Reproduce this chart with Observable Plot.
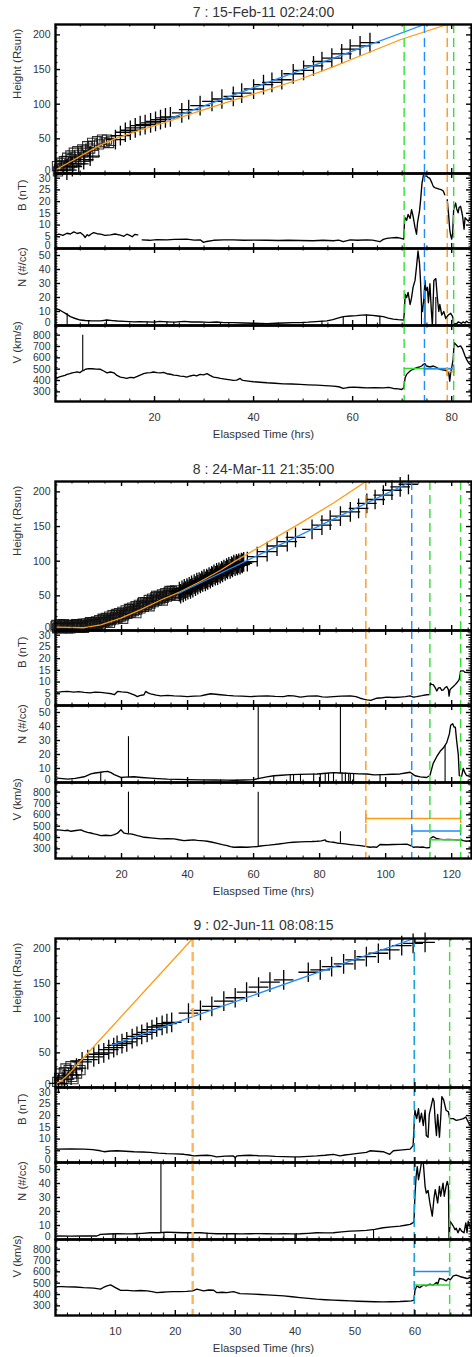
<!DOCTYPE html>
<html><head><meta charset="utf-8">
<script src="https://cdn.jsdelivr.net/npm/d3@7"></script>
<script src="https://cdn.jsdelivr.net/npm/@observablehq/plot@0.6"></script>
<style>
html,body{margin:0;padding:0;background:#fff;overflow:hidden;}
#root{position:relative;width:472px;height:1357px;font-family:"Liberation Sans",Arial,Helvetica,sans-serif;color:#333;}
.ttl{position:absolute;left:55px;width:417px;height:16px;line-height:16px;text-align:center;font-size:14px;color:#333;}
</style></head><body><div id="root"></div>
<script>
// ---------- text ----------
const titles = ["7 : 15-Feb-11 02:24:00", "8 : 24-Mar-11 21:35:00", "9 : 02-Jun-11 08:08:15"];
const yTitles = ["Height (Rsun)", "B (nT)", "N (#/cc)", "V (km/s)"];
const xTitle = "Elaspsed Time (hrs)";
const hLabels = [0, 50, 100, 150, 200];
const bLabels = [0, 5, 10, 15, 20, 25, 30];
const nLabels = [0, 10, 20, 30, 40, 50];
const vLabels = [300, 400, 500, 600, 700, 800];
const e7_xTicks = [20, 40, 60, 80];
const e8_xTicks = [20, 40, 60, 80, 100, 120];
const e9_xTicks = [10, 20, 30, 40, 50, 60];

// ---------- event 7 ----------
const e7_heightSquare = [[0.3,10.6],[0.7,5.8],[1.0,15.5],[1.4,8],[1.7,17.8],[2.0,10.6],[2.35,22.7],[2.8,13],[3.0,26],[3.4,15.5],[3.7,29.9],[4.2,18],[4.4,32.2],[5.0,20.3],[5.4,34.6],[5.9,24],[6.4,39.4],[6.6,25.1],[7.4,44.2],[7.8,30],[8.4,46.6],[9.4,49],[10.4,49],[11.2,47],
[0.5,3],[1.2,12],[2.1,18],[2.6,8],[3.2,21],[4.0,24],[4.8,27],[5.6,30],[6.1,33],[7.0,36],[7.6,40],[8.8,42],[9.9,45],[10.8,44]];
const e7_heightPlus = [[2.3,5],[3.4,10],[4.7,14],[5.7,20],[7.0,25],[12.1,49],[13.1,54.7],[14.1,59.5],[15.1,62.4],[16.1,65.8],[17.1,69.1],[18.1,70.6],[19.2,73],[20.2,75.3],[21.2,77.8],[22.2,80.2],[23.2,81.6],[25.5,87.4],[26.9,92.1],[29.2,97.9],[31.6,104.1],[33.6,107.5],[35.9,111.3],[37.6,116.1],[40.0,121.9],[42.0,128.1],[43.7,131.4],[45.7,135.3],[48.0,143.9],[50.1,148.7],[52.1,155.4],[53.8,161.6],[55.8,166.5],[57.8,172.7],[59.5,179.4],[61.5,184.2],[63.5,188.9]];
const e7_fitOrange = [[0,5],[2,13],[4,21],[6,29],[9,41],[12,50],[16,60],[22.6,75],[30,92],[36,106],[42,119],[49.4,136],[56,154],[62,171],[69.6,193],[79.1,215]];
const e7_fitBlue = [[22.6,78],[74.5,215]];
const e7_B = [[0.0,5.6],[0.7,6.1],[1.5,5.6],[2.3,6.5],[3.0,6.2],[3.7,7.1],[4.4,6.4],[5.0,6.8],[5.6,5.8],[6.0,4.7],[6.4,5.9],[6.7,5.4],[7.2,6.2],[7.7,6.8],[8.4,6.3],[9.1,6.1],[10.0,5.6],[11.1,5.8],[12.0,6.2],[13.1,5.7],[13.8,5.2],[14.4,6.1],[15.0,5.6],[15.5,5.0],[16.0,6.0],[16.6,5.8],[16.7,null],
[17.5,3.7],[19.0,3.5],[20.5,3.8],[22.5,3.7],[24.0,3.9],[26.5,4.0],[28.0,3.6],[29.2,3.7],[29.9,2.6],[30.5,3.0],[31.9,3.5],[34.0,3.7],[35.9,3.7],[38.0,3.5],[40.0,3.6],[42.7,3.5],[45.0,3.4],[47.0,3.5],[49.4,3.4],[52.0,3.3],[54.0,3.5],[56.1,3.3],[57.2,3.6],[58.1,2.9],[59.5,3.7],[61.0,3.5],[62.8,3.7],[64.0,3.6],[65.5,2.9],[66.2,3.9],[66.9,4.3],[67.8,4.5],[68.9,4.7],[69.6,4.4],[70.3,4.0],
[70.5,12.5],[70.6,13.1],[70.9,12.0],[71.2,14.5],[71.6,12.8],[71.9,16.6],[72.2,13.8],[72.6,8.9],[72.9,6.1],[73.1,11.0],[73.5,15.9],[73.7,20.1],[74.0,27.8],[74.3,31.3],[74.6,31.0],[74.9,30.9],[75.3,30.2],[75.6,29.9],[76.0,28.0],[76.3,26.4],[76.6,26.0],[77.0,25.7],[77.5,25.3],[78.0,25.0],[78.3,24.5],[78.6,22.9],[78.7,null],
[79.1,20.8],[79.3,16.0],[79.4,13.8],[79.6,8.2],[79.8,5.5],[80.0,4.0],[80.2,6.8],[80.4,16.6],[80.6,18.0],[80.8,19.4],[81.0,17.0],[81.3,15.2],[81.5,17.5],[81.8,18.0],[82.0,16.0],[82.2,13.8],[82.5,8.2],[82.7,13.1],[83.0,12.4],[83.2,12.0],[83.4,11.7],[83.7,13.1],[84.0,12.5]];
const e7_N = [[0.0,12.0],[0.7,11.3],[1.35,10.0],[2.0,8.7],[3.0,6.3],[4.0,5.0],[5.0,3.9],[6.0,3.6],[7.0,3.4],[8.0,3.3],[9.1,3.3],[10.4,3.9],[11.5,3.5],[12.5,3.2],[14.0,2.9],[15.8,2.6],[17.0,2.8],[18.5,2.6],[20.0,2.4],[21.0,2.9],[22.5,2.6],[24.0,2.4],[26.0,2.9],[27.5,2.5],[29.2,2.6],[31.0,2.2],[32.5,2.5],[34.0,2.0],[35.9,2.1],[38.0,1.8],[40.0,1.6],[42.7,1.3],[44.5,1.6],[46.0,1.8],[48.0,2.0],[49.4,2.1],[51.0,2.4],[52.5,2.8],[54.8,3.3],[56.0,4.2],[57.0,5.2],[58.1,6.3],[59.5,6.8],[60.8,7.0],[61.8,7.4],[62.8,7.5],[64.0,7.2],[65.0,6.8],[66.2,6.3],[67.2,5.3],[68.2,4.6],[69.2,4.2],[70.3,3.9],
[70.45,10.0],[70.6,22.4],[70.9,19.9],[71.2,23.6],[71.6,15.0],[71.9,19.9],[72.2,27.3],[72.6,32.2],[72.9,42.1],[73.2,53.2],[73.5,44.6],[73.7,32.2],[73.9,15.0],[74.1,10.0],[74.4,19.9],[74.6,32.2],[74.8,24.8],[75.1,27.3],[75.3,16.2],[75.6,29.8],[75.9,10.0],[76.1,0],[76.4,32.2],[76.8,33.5],[77.1,19.9],[77.4,10.0],[77.6,15.0],[78.0,7.5],[78.4,10.0],[78.8,5.0],[79.3,7.5],[79.8,8.7],[80.2,6.3],[80.4,1.3],[81.0,1.3],[81.3,2.5],[81.7,2.1],[82.0,1.5],[82.3,2.6],[82.7,1.8],[83.0,3.1],[83.4,2.0],[83.7,2.1],[84.0,2.5]];
const e7_Nspikes = [[2.35,0,8.5],[6.7,0,3.5],[10.3,0,3.8],[18.5,0,2.6],[22.5,0,2.6],[23.9,0,2.4],[33.3,0,2.2],[42.0,0,1.5],[53.8,0,3.0],[58.1,0,6.3],[62.8,0,7.5],[65.5,0,6.6],[73.9,0,15],[74.6,0,30],[76.8,0,20]];
const e7_V = [[0.0,430],[0.34,424],[0.8,432],[1.35,439],[1.9,445],[2.35,454],[2.9,460],[3.36,468],[3.9,472],[4.37,477],[4.9,470],[5.38,484],[5.7,490],[6.05,499],[6.7,505],[7.39,504],[8.2,500],[9.07,499],[9.74,484],[10.4,468],[11.1,475],[11.8,468],[12.4,445],[13.1,430],[13.7,425],[14.4,419],[15.1,428],[15.8,424],[16.5,436],[17.1,448],[17.8,460],[18.5,468],[19.2,470],[19.8,475],[20.5,470],[21.2,468],[21.8,472],[22.5,460],[23.2,455],[23.9,448],[24.5,445],[25.2,439],[25.9,436],[26.5,430],[27.2,440],[27.9,448],[28.5,440],[29.2,454],[29.9,450],[30.6,460],[31.2,445],[31.9,430],[32.6,425],[33.3,419],[33.9,415],[34.6,410],[35.3,405],[35.9,401],[36.6,404],[37.3,419],[37.6,405],[37.9,401],[38.9,395],[40.0,389],[41.3,385],[42.7,380],[44.3,376],[46.0,371],[47.7,369],[49.4,366],[51.0,362],[52.8,359],[54.4,355],[56.1,350],[57.2,345],[58.1,330],[59.0,338],[60.2,342],[61.5,338],[62.8,335],[64.5,337],[66.2,335],[67.3,340],[68.2,330],[69.2,326],[69.9,321],[70.3,335],
[70.6,424],[70.9,454],[71.6,484],[72.2,499],[72.9,513],[73.5,519],[74.0,530],[74.3,543],[74.6,548],[74.9,528],[75.6,519],[76.3,528],[77.0,513],[77.6,499],[78.4,493],[79.1,484],[79.4,468],[79.6,395],[79.8,468],[80.0,513],[80.3,587],[80.5,734],[80.8,720],[81.3,696],[81.8,705],[82.2,676],[82.7,617],[83.0,587],[83.4,557],[83.7,543],[84.0,540]];
const e7_Vspikes = [[5.5,488,800]];
const e7_markerTimes = [70.4, 74.5, 79.1, 80.4];
const e7_markerKinds = ["green", "blue", "orange", "green"];
const e7_levels = [{from:70.4,to:80.4,v:507,kind:"green"},{from:74.5,to:80.4,v:503,kind:"blue"},{from:79.1,to:80.4,v:478,kind:"orange"}];

// ---------- event 8 ----------
const e8_heightSquare = [[0,6],[1,5],[2,6],[3,5],[4,6],[5,5],[6,6],[7,6],[8,7],[9,7],[10,8],[11,9],[12,10],[13,11],[14,12],[15,14],[16,15],[17,17],[18,19],[19,20],[20,22],[21,24],[22,26],[23,28],[24,30],[25,33],[26,35],[27,37],[28,40],[29,42],[30,44],[31,46],[32,48],[33,50],[34,51],[35,52],[36,54],[37,55],
[0.5,3],[2.5,9],[4.5,3],[6.5,9],[8.5,4],[10.5,12],[12.5,6],[14.5,16],[16.5,11],[18.5,24],[20.5,17],[22.5,31],[24.5,25],[26.5,41],[28.5,35],[30.5,50],[32.5,43],[34.5,57],[36.5,50],
[0.25,8],[0.75,4],[1.25,9],[1.75,3],[2.25,7],[2.75,4],[3.25,8],[3.75,3],[4.25,7],[4.75,5],[5.25,8],[5.75,4],[6.25,9],[6.75,5],[7.25,8],[7.75,4],[8.25,10],[8.75,5],[9.25,10],[9.75,6],[10.25,11],[10.75,7],[11.25,12],[11.75,8],[12.25,13],[12.75,9],[13.25,15],[13.75,10],[14.25,17],[14.75,12],[15.25,18],[15.75,13],[16.25,20],[16.75,15],[17.25,22],[17.75,16],[18.25,23],[18.75,18],[19.25,25],[19.75,20],[20.25,27],[20.75,22],[21.25,29],[21.75,24],[22.25,31],[22.75,26],[23.25,33],[23.75,28],[24.25,35],[24.75,30],[25.25,37],[25.75,32],[26.25,39],[26.75,34],[27.25,41],[27.75,37],[28.25,44],[28.75,39],[29.25,46],[29.75,41],[30.25,48],[30.75,43],[31.25,50],[31.75,45],[32.25,52],[32.75,47],[33.25,54],[33.75,49],[34.25,55],[34.75,51],[35.25,57],[35.75,52],[36.25,58],[36.75,54]];
const e8_heightPlus = [[37.5,56],[38.3,58],[39,60],[39.8,61],[40.5,63],[41.2,65],[42,67],[42.8,69],[43.5,70],[44.3,72],[45,74],[45.8,75],[46.5,77],[47.3,79],[48,81],[48.8,83],[49.5,84],[50.3,86],[51,88],[51.8,90],[52.5,92],[53.3,93],[54,95],[54.8,96],[55.5,97],[56.3,98],[57,99],
[37.9,53],[38.7,55],[39.4,57],[40.1,59],[40.9,60],[41.6,62],[42.4,64],[43.1,66],[43.9,68],[44.6,70],[45.4,71],[46.1,73],[46.9,75],[47.6,77],[48.4,79],[49.1,80],[49.9,82],[50.6,84],[51.4,86],[52.1,88],[52.9,89],[53.6,91],[54.4,93],[55.1,94],[55.9,95],[56.6,97],
[58.1,99.3],[61.1,106.5],[64.1,113.7],[67.1,121.9],[70.2,128.1],[72.7,134.4],[77.7,145.9],[80.7,152.1],[83.2,159.3],[86.3,165],[89.3,171.2],[91.8,176.1],[94.3,183.3],[96.8,189],[99.3,195.2],[101.9,202.4],[104.4,207.2],[106.9,211]];
const e8_fitOrange = [[0,5],[4,4.5],[8.7,4],[13.7,8],[19.8,18],[25.8,30],[31.9,44],[37.9,56],[44,71],[50,87],[54,99],[64.1,127],[74.2,155],[84.2,184],[94,215]];
const e8_fitBlue = [[37,53],[107.9,215]];
const e8_B = [[0.6,5.6],[2.0,5.9],[3.7,6.0],[5.5,5.7],[7.0,5.9],[8.7,5.6],[10.5,5.4],[12.0,5.7],[13.7,5.6],[15.5,5.3],[17.0,5.0],[17.8,4.6],[18.8,6.0],[20.0,5.8],[21.8,5.6],[23.0,5.0],[24.0,4.4],[24.8,3.8],[25.5,4.2],[26.8,4.6],[27.3,6.0],[28.0,5.4],[28.8,5.0],[30.5,4.4],[31.9,4.1],[34.0,4.3],[35.9,4.1],[38.0,4.0],[39.9,3.8],[42.0,4.0],[44.0,4.1],[45.5,4.6],[47.0,5.0],[48.5,4.8],[50.0,4.6],[52.0,4.3],[54.0,4.1],[56.5,4.0],[59.1,3.8],[61.5,4.0],[64.1,4.1],[66.5,3.9],[69.1,3.8],[70.5,4.2],[72.1,4.1],[74.2,3.6],[76.5,4.0],[79.2,4.1],[80.8,3.7],[82.2,3.6],[84.2,3.8],[86.5,4.0],[89.3,4.1],[91.0,3.8],[92.3,3.1],[93.3,2.7],[94.3,2.4],[95.5,2.2],[97.3,3.1],[99.0,3.3],[100.4,3.6],[102.5,3.4],[104.4,3.6],[106.0,3.8],[107.4,4.1],[108.4,3.6],[109.4,3.8],[111.0,4.2],[112.4,4.6],[113.3,4.7],[113.5,9.6],[113.9,9.0],[114.4,8.9],[115.0,7.6],[115.5,6.2],[116.0,7.5],[116.5,7.6],[117.0,6.5],[117.5,6.7],[118.0,7.6],[118.5,8.1],[119.0,6.8],[119.2,4.0],[119.5,6.7],[120.0,7.5],[120.5,8.1],[121.0,8.8],[121.5,9.6],[122.0,10.5],[122.3,11.2],[122.7,14.8],[123.5,14.8],[124.0,14.2],[124.5,14.1],[125.5,14.1],[126,13.9]];
const e8_N = [[0.6,3.1],[2.0,2.8],[3.7,2.4],[6.0,3.0],[8.7,4.1],[10.7,6.1],[12.0,6.8],[13.7,7.3],[14.8,7.8],[15.8,8.0],[16.8,7.0],[17.8,5.6],[19.8,3.6],[21.0,3.8],[23.8,4.1],[26.0,3.6],[28.8,3.1],[31.0,2.8],[33.9,2.4],[37.0,2.2],[40.0,2.0],[44.0,1.9],[48.0,1.8],[52.0,1.7],[54.0,1.6],[57.0,1.8],[60.0,2.1],[62.1,3.1],[64.0,4.0],[66.1,4.8],[68.5,5.2],[71.1,5.6],[74.0,5.8],[77.0,6.0],[79.2,6.1],[82.0,6.6],[84.2,7.0],[86.0,6.8],[89.3,6.5],[92.0,6.2],[94.3,6.1],[96.5,5.4],[99.3,5.6],[102.0,5.9],[104.4,6.1],[106.0,6.8],[107.4,7.3],[108.2,6.0],[108.9,4.8],[110.5,4.0],[112.4,3.6],[113.4,5.0],[114.4,13.7],[115.5,18.6],[116.5,22.3],[117.5,24.8],[118.5,28.5],[119.3,34.7],[119.7,40.9],[120.3,42.0],[120.7,39.6],[121.1,39.6],[121.5,29.8],[122.0,19.9],[122.3,5.0],[123.0,4.5],[123.5,10.0],[124.0,7.0],[124.5,5.0],[125.5,4.5],[126,5.0]];
const e8_Nspikes = [[13.7,0,7.3],[22.1,3.6,32.7],[61.4,2.2,56],[66.1,0,4.8],[71.1,0,5.6],[72.1,0,5.6],[74.2,0,5.8],[78.2,0,6.0],[80.2,0,6.2],[81.7,0,6.5],[82.7,0,6.6],[84.2,0,7.0],[86.3,6.5,56],[86.8,0,6.8],[87.8,0,6.7],[88.8,0,6.5],[89.3,0,6.5],[90.3,0,6.4],[98.3,0,5.6],[118.0,0,26]];
const e8_V = [[0.6,468],[1.6,465],[2.7,461],[3.7,464],[4.7,455],[6.2,462],[7.7,468],[8.7,455],[9.7,446],[10.7,440],[11.7,432],[12.7,425],[13.7,417],[15.2,420],[16.8,417],[17.8,425],[18.8,438],[19.8,468],[20.8,438],[22.0,432],[22.8,432],[23.8,425],[24.8,417],[25.8,410],[26.8,402],[27.8,400],[28.8,397],[30.4,392],[31.9,388],[33.9,390],[35.9,388],[37.4,380],[38.9,373],[40.4,376],[41.9,379],[43.0,375],[44,373],[45.0,370],[46,367],[47.5,358],[49,349],[50.5,338],[52,329],[53.0,320],[54,314],[56.0,316],[58.1,314],[59.6,318],[61.1,320],[62.1,325],[63.1,329],[64.6,333],[66.1,338],[67.6,343],[69.1,349],[70.6,355],[72.1,358],[74.2,361],[76.2,364],[77.7,365],[79.2,367],[80.5,370],[81.7,379],[82.0,367],[83.1,362],[84.2,358],[85.2,352],[86.2,349],[87.7,344],[89.3,338],[90.8,333],[92.3,329],[93.8,322],[95.3,314],[96.3,318],[97.3,314],[98.3,338],[100.4,336],[102.4,338],[104.4,340],[106.4,341],[107.4,330],[108.4,314],[109.4,318],[110.4,314],[111.4,316],[112.4,309],[113.3,312],[113.5,391],[114.4,408],[115.4,391],[116.4,386],[117.5,382],[119.0,384],[120.5,382],[121.6,380],[122.7,382],[123.5,372],[124.5,367],[125.5,373],[126,370]];
const e8_Vspikes = [[22.1,432,800],[61.4,320,800],[86.3,349,450]];
const e8_markerTimes = [94.0, 107.9, 113.4, 122.7];
const e8_markerKinds = ["orange", "blue", "green", "green"];
const e8_levels = [{from:94.0,to:122.7,v:567,kind:"orange"},{from:107.9,to:122.7,v:458,kind:"blue"},{from:113.4,to:122.7,v:380,kind:"green"}];

// ---------- event 9 ----------
const e9_heightSquare = [[0.3,8],[0.83,20.2],[1.1,10.6],[1.67,27.4],[2.0,17.8],[2.5,30.7],[2.8,15.3],[3.33,32.2],[3.6,20.2],[4.17,25],[0.6,14],[1.4,22],[2.2,25],[3.0,12]];
const e9_heightPlus = [[0.5,6],[1.5,12],[2.6,18],[3.5,28],[4.44,36.9],[5.39,40.3],[6.39,44.1],[7.22,48.0],[8.06,49.9],[8.89,54.7],[9.72,57.6],[10.28,60.9],[11.1,63.3],[11.9,65.7],[12.8,70.5],[13.6,73.9],[14.4,76.7],[15.3,79.6],[16.1,83.5],[16.9,87.3],[17.8,89.7],[18.6,92.1],[19.4,94.0],[22.2,107.4],[24.2,111.3],[26.1,117],[28.1,124.7],[30.0,129.5],[31.9,137.6],[33.9,144.8],[35.8,152.0],[38.1,155.4],[42.2,166.3],[44.2,169.8],[46.1,174.5],[48.1,178.4],[50.0,184.1],[51.9,188.9],[53.9,193.7],[55.8,198.5],[57.8,204.7],[59.7,208.1],[61.7,209.5]];
const e9_fitOrange = [[0,5],[1,10],[2.0,17.5],[3.3,30],[4.8,44],[22.9,215]];
const e9_fitBlue = [[9.4,61],[59.9,215]];
const e9_B = [[0.28,5.7],[2.5,5.8],[4.72,5.7],[6.2,5.5],[7.5,5.0],[8.1,4.6],[9.2,4.9],[10.3,5.0],[11.7,4.8],[13.1,4.6],[14.5,4.5],[15.8,4.3],[17.2,4.0],[18.6,3.8],[20.0,3.7],[21.4,3.5],[22.3,3.2],[23.1,2.8],[24.2,3.0],[25.3,3.1],[26.0,2.9],[26.9,2.4],[28.3,2.7],[29.7,2.8],[30.0,2.1],[30.3,2.8],[31.4,3.0],[32.5,3.1],[33.9,2.9],[35.3,2.8],[36.7,2.6],[38.1,2.5],[39.5,2.4],[40.8,2.4],[42.2,2.6],[43.6,2.8],[45.0,3.1],[46.4,3.5],[47.5,2.8],[48.3,3.2],[49.2,3.5],[50.5,3.9],[51.9,4.3],[52.5,5.0],[53.6,4.8],[54.7,4.6],[55.8,3.5],[56.4,5.0],[57.5,5.3],[58.4,5.5],[59.2,5.7],[59.7,7.2],
[60.0,22.3],[60.3,18.7],[60.6,23],[60.8,17.3],[61.1,21],[61.4,15.8],[61.7,22.3],[61.9,11.5],[62.2,10.8],[62.4,20.5],[62.7,23.8],[63.0,27.4],[63.2,26],[63.4,17.3],[63.6,11.5],[63.8,20.5],[64.1,10.8],[64.3,18.7],[64.5,28.1],[64.8,26.7],[65.2,22.3],[65.6,21.6],[65.8,18.7],[66.4,18.7],[66.9,18],[67.5,18.3],[68.1,18.7],[68.5,19.4],[68.9,17.3],[69.2,15.8],[69.45,16]];
const e9_N = [[0.28,2.5],[2.5,2.4],[4.72,2.5],[6.9,2.5],[7.5,3.7],[8.9,3.9],[10.3,4.1],[11.7,4.0],[13.1,4.1],[14.5,4.4],[15.8,4.8],[17.2,4.8],[18.6,5.3],[20.0,5.0],[21.4,4.8],[22.8,4.9],[24.2,4.8],[25.6,4.4],[26.9,4.1],[28.3,4.2],[29.7,4.1],[31.1,4.0],[32.5,4.1],[33.9,4.2],[35.3,4.1],[36.7,4.0],[38.1,4.1],[39.5,4.0],[40.8,4.1],[42.2,4.4],[43.6,4.8],[45.0,4.7],[46.4,4.8],[47.8,5.4],[49.2,6.0],[50.5,6.2],[51.9,6.5],[53.3,7.2],[54.7,8.4],[56.1,9.0],[57.5,9.6],[58.4,10.2],[59.2,10.8],[59.7,12.0],
[59.85,13],[60.0,30.9],[60.2,45],[60.4,52],[60.6,42.7],[60.8,47.4],[61.1,55],[61.4,55],[61.7,38],[61.9,33.2],[62.2,35],[62.5,26.1],[62.8,19],[62.9,16.7],[63.2,30],[63.4,35.6],[63.6,30.9],[63.8,26.1],[64.1,38],[64.3,30.9],[64.5,35.6],[64.7,40.3],[64.9,30.9],[65.2,38],[65.4,41.5],[65.6,38],[65.7,0],[65.9,13],[66.4,9.6],[66.7,7],[66.9,8],[67.2,4.8],[67.5,8],[67.8,6],[68.2,4.8],[68.5,11.9],[68.7,4.8],[68.9,13],[69.2,9],[69.45,8]];
const e9_Nspikes = [[9.6,0,4.0],[13.6,0,4.1],[17.6,4.8,56],[18.1,0,5.0],[22.1,0,4.8],[25.3,0,4.5],[28.6,0,4.1],[40.2,0,4.1],[53.1,0,7.0]];
const e9_V = [[0.28,470],[1.1,469],[1.9,468],[3.3,466],[4.7,461],[5.6,459],[6.4,456],[7.5,447],[8.0,462],[8.6,476],[9.2,485],[10.0,461],[10.8,438],[12.0,436],[13.1,432],[14.2,435],[15.3,432],[16.1,425],[16.9,417],[17.8,420],[18.6,423],[19.7,425],[20.8,426],[21.9,428],[22.9,432],[23.6,447],[24.7,432],[25.6,440],[26.4,438],[26.9,417],[27.8,420],[28.6,417],[29.7,426],[30.8,408],[32.0,406],[33.1,403],[34.2,400],[35.3,397],[36.7,392],[38.1,388],[39.5,380],[40.8,373],[42.2,366],[43.6,359],[45.0,354],[46.4,350],[47.8,347],[49.2,344],[50.5,341],[51.9,338],[53.3,336],[54.7,335],[56.1,336],[57.5,338],[58.5,341],[59.4,344],[59.85,350],
[60.0,432],[60.3,476],[60.8,461],[61.4,482],[61.9,476],[62.5,491],[63.0,482],[63.6,506],[63.8,491],[64.1,541],[64.7,535],[65.2,520],[65.6,541],[65.9,529],[66.4,565],[66.9,571],[67.5,559],[68.1,550],[68.7,541],[69.2,550],[69.45,545]];
const e9_Vspikes = [];
const e9_markerTimes = [22.9, 59.9, 65.8];
const e9_markerKinds = ["orange2", "blue2", "green"];
const e9_levels = [{from:59.9,to:65.8,v:602,kind:"blue"},{from:59.9,to:65.8,v:484,kind:"green"}];

// ---------- styles ----------
const FONT = '"Liberation Sans", Arial, Helvetica, sans-serif';
const TXT = "#333";
const COLORS = {green:"#2fdc2f", blue:"#1e8cff", orange:"#ff9a14"};
const DASH = {
  green:{color:"#33e033", width:1.4},
  blue:{color:"#1e8cff", width:1.4},
  orange:{color:"#ff9a14", width:1.4},
  orange2:{color:"#ffb45c", width:2.4},
  blue2:{color:"#1a9fd6", width:1.6}
};
const CAPS = {orange:true, blue:true, green:false};
const vbar = {draw(ctx, size){const r = Math.sqrt(size/Math.PI); ctx.moveTo(0,-r); ctx.lineTo(0,r);}};

const YSPEC = {
  H:{domain:[0,215], labels:hLabels, minor:10, title:yTitles[0], titleDx:-38},
  B:{domain:[0,32], labels:bLabels, minor:1, title:yTitles[1], titleDx:-33},
  N:{domain:[0,55], labels:nLabels, minor:2, title:yTitles[2], titleDx:-33},
  V:{domain:[215,885], labels:vLabels, minor:50, title:yTitles[3], titleDx:-38}
};
const SUBS = [["H",149],["B",75],["N",77],["V",76]];

const events = [
  {title:titles[0], top:24, titleY:12, xDomain:[0,84], xTicks:e7_xTicks, xMinor:5,
   square:e7_heightSquare, plus:e7_heightPlus, orange:e7_fitOrange, blue:e7_fitBlue,
   B:e7_B, N:e7_N, V:e7_V, spikes:{B:[], N:e7_Nspikes, V:e7_Vspikes},
   markerTimes:e7_markerTimes, markerKinds:e7_markerKinds, levels:e7_levels},
  {title:titles[1], top:481, titleY:469, xDomain:[0,126], xTicks:e8_xTicks, xMinor:5,
   square:e8_heightSquare, plus:e8_heightPlus, orange:e8_fitOrange, blue:e8_fitBlue,
   B:e8_B, N:e8_N, V:e8_V, spikes:{B:[], N:e8_Nspikes, V:e8_Vspikes},
   markerTimes:e8_markerTimes, markerKinds:e8_markerKinds, levels:e8_levels},
  {title:titles[2], top:938, titleY:925, xDomain:[0,69.45], xTicks:e9_xTicks, xMinor:2,
   square:e9_heightSquare, plus:e9_heightPlus, orange:e9_fitOrange, blue:e9_fitBlue,
   B:e9_B, N:e9_N, V:e9_V, spikes:{B:[], N:e9_Nspikes, V:e9_Vspikes},
   markerTimes:e9_markerTimes, markerKinds:e9_markerKinds, levels:e9_levels}
];

const root = document.getElementById("root");
const W = 472, ML = 55, MR = 1;

function makeSub(ev, k, h, isBottom) {
  const spec = YSPEC[k];
  const MB = isBottom ? 45 : 0;
  const iw = W - ML - MR, ih = h;
  const xd = ev.xDomain;
  const xMinor = d3.range(xd[0], xd[1], ev.xMinor).filter(v => v > xd[0] && !ev.xTicks.includes(v));
  const yMinor = d3.range(spec.domain[0], spec.domain[1], spec.minor).filter(v => v > spec.domain[0] && !spec.labels.includes(v));
  const yMajor = spec.labels.filter(v => v > spec.domain[0]);
  const X = d => d[0], Yv = d => d[1];
  const marks = [];
  if (k === "H") {
    marks.push(Plot.dot(ev.square, {x:X, y:Yv, symbol:"square", r:5.2, fill:"none", stroke:"#111", strokeWidth:1.1, strokeOpacity:0.85}));
    marks.push(Plot.dot(ev.plus, {x:X, y:Yv, symbol:"plus", r:6.4, stroke:"#000", strokeWidth:1.3}));
    marks.push(Plot.line(ev.orange, {x:X, y:Yv, stroke:COLORS.orange, strokeWidth:1.3, clip:true}));
    marks.push(Plot.line(ev.blue, {x:X, y:Yv, stroke:COLORS.blue, strokeWidth:1.3, clip:true}));
  } else {
    marks.push(Plot.line(ev[k], {x:X, y:Yv, stroke:"#000", strokeWidth:1.35, clip:true}));
    if (ev.spikes[k].length) marks.push(Plot.ruleX(ev.spikes[k], {x:d=>d[0], y1:d=>d[1], y2:d=>d[2], stroke:"#000", strokeWidth:1.1, clip:true}));
    if (k === "V") {
      for (const lv of ev.levels) {
        marks.push(Plot.ruleY([lv], {y:d=>d.v, x1:d=>d.from, x2:d=>d.to, stroke:COLORS[lv.kind], strokeWidth:1.5}));
        if (CAPS[lv.kind]) marks.push(Plot.dot([[lv.from, lv.v],[lv.to, lv.v]], {x:X, y:Yv, symbol:vbar, r:4.5, fill:"none", stroke:COLORS[lv.kind], strokeWidth:1.5}));
      }
    }
  }
  ev.markerTimes.forEach((t, i) => {
    const st = DASH[ev.markerKinds[i]];
    marks.push(Plot.ruleX([t], {x:d=>d, stroke:st.color, strokeWidth:st.width, strokeDasharray:"9,5"}));
  });
  // ticks (inside)
  marks.push(Plot.ruleY(yMajor, {y:d=>d, insetRight:iw-5, stroke:"#000", strokeWidth:1.4}));
  marks.push(Plot.ruleY(yMajor, {y:d=>d, insetLeft:iw-5, stroke:"#000", strokeWidth:1.4}));
  marks.push(Plot.ruleY(yMinor, {y:d=>d, insetRight:iw-2.5, stroke:"#000", strokeWidth:1}));
  marks.push(Plot.ruleY(yMinor, {y:d=>d, insetLeft:iw-2.5, stroke:"#000", strokeWidth:1}));
  marks.push(Plot.ruleX(ev.xTicks, {x:d=>d, insetTop:ih-5, stroke:"#000", strokeWidth:1.4}));
  marks.push(Plot.ruleX(ev.xTicks, {x:d=>d, insetBottom:ih-5, stroke:"#000", strokeWidth:1.4}));
  marks.push(Plot.ruleX(xMinor, {x:d=>d, insetTop:ih-2.5, stroke:"#000", strokeWidth:1}));
  marks.push(Plot.ruleX(xMinor, {x:d=>d, insetBottom:ih-2.5, stroke:"#000", strokeWidth:1}));
  marks.push(Plot.frame({stroke:"#000", strokeWidth:2.4}));
  // y labels
  const low = spec.labels.filter(v => v === spec.domain[0]);
  const rest = spec.labels.filter(v => v !== spec.domain[0]);
  marks.push(Plot.text(rest, {y:d=>d, text:d=>String(d), frameAnchor:"left", textAnchor:"end", dx:-5, fontSize:10.5, fill:TXT}));
  if (low.length) marks.push(Plot.text(low, {y:d=>d, text:d=>String(d), frameAnchor:"left", textAnchor:"end", dx:-5, dy:-3, fontSize:10.5, fill:TXT}));
  marks.push(Plot.text([spec.title], {text:d=>d, frameAnchor:"left", rotate:-90, dx:spec.titleDx, fontSize:11.4, fill:TXT}));
  if (isBottom) {
    marks.push(Plot.text(ev.xTicks, {x:d=>d, text:d=>String(d), frameAnchor:"bottom", lineAnchor:"top", dy:12, fontSize:11, fill:TXT}));
    marks.push(Plot.text([xTitle], {text:d=>d, frameAnchor:"bottom", lineAnchor:"middle", dy:33, fontSize:11.4, fill:TXT}));
  }
  return Plot.plot({
    width:W, height:h + MB, marginLeft:ML, marginRight:MR, marginTop:0, marginBottom:MB,
    x:{domain:xd, axis:null}, y:{domain:spec.domain, axis:null},
    style:{background:"transparent", overflow:"visible", fontFamily:FONT, color:"#000"},
    marks
  });
}

for (const ev of events) {
  const t = document.createElement("div");
  t.className = "ttl"; t.textContent = ev.title; t.style.top = (ev.titleY - 8) + "px";
  root.appendChild(t);
  let y = ev.top;
  SUBS.forEach(([k, h], i) => {
    const svg = makeSub(ev, k, h, i === SUBS.length - 1);
    svg.style.position = "absolute"; svg.style.left = "0px"; svg.style.top = y + "px";
    root.appendChild(svg);
    y += h;
  });
}
</script></body></html>
